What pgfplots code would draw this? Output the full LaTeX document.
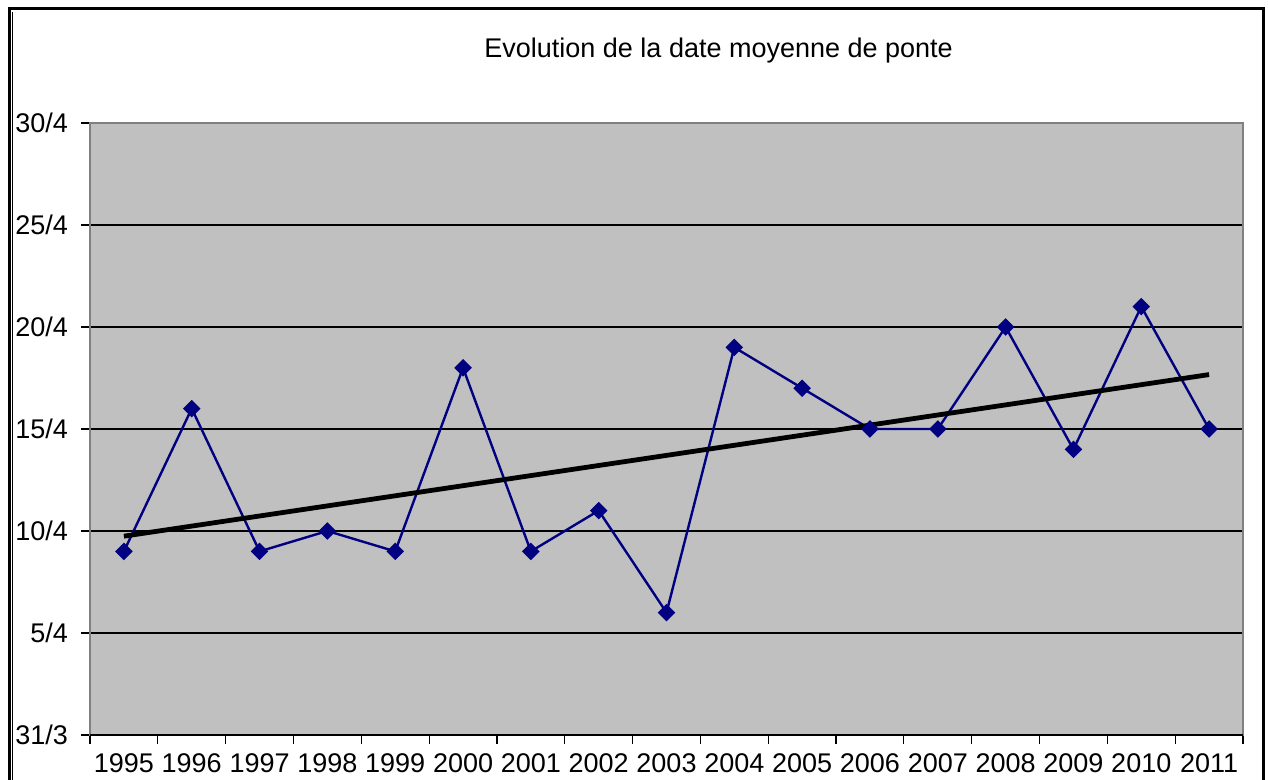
\documentclass[border=0pt]{standalone}
\usepackage{pgfplots}
\pgfplotsset{compat=1.18}
\usepackage{fontspec}
\setmainfont{Liberation Sans}
\definecolor{plotgray}{HTML}{C0C0C0}
\definecolor{bordergray}{HTML}{808080}
\definecolor{navyline}{HTML}{000080}
\begin{document}
\begin{tikzpicture}
\useasboundingbox (0,0) rectangle (634pt,390pt);
\fill[white] (0,0) rectangle (634pt,390pt);
% outer chart frame (bottom edge cropped away)
\draw[black,line width=1.4pt] (4.8pt,-2pt) -- (4.8pt,385.6pt) -- (631.6pt,385.6pt) -- (631.6pt,-2pt);
\draw[black,line width=0.5pt] (6.3pt,-2pt) -- (6.3pt,384.1pt);
\node[anchor=base,font=\fontsize{13.5}{15}\selectfont] at (359.3pt,361pt) {Evolution de la date moyenne de ponte};
\begin{axis}[
  at={(45pt,22.5pt)}, anchor=south west,
  scale only axis, width=576.5pt, height=306pt,
  xmin=-0.5, xmax=16.5, ymin=0, ymax=30,
  axis background/.style={fill=plotgray},
  axis line style={bordergray,line width=1pt},
  xtick={0,...,16},
  xticklabels={1995,1996,1997,1998,1999,2000,2001,2002,2003,2004,2005,2006,2007,2008,2009,2010,2011},
  minor xtick={-0.5,0.5,...,16.5},
  major x tick style={draw=none},
  minor x tick style={black,line width=0.6pt},
  ytick={0,5,10,15,20,25,30},
  yticklabels={31/3,5/4,10/4,15/4,20/4,25/4,30/4},
  y tick style={black,line width=0.6pt},
  tick align=outside,
  major tick length=4.5pt,
  minor tick length=4.5pt,
  xtick pos=bottom, ytick pos=left,
  ymajorgrids,
  grid style={black,line width=0.6pt},
  ticklabel style={font=\fontsize{13.5}{15}\selectfont},
  yticklabel style={xshift=-3pt},
  xticklabel style={yshift=-1.5pt},
  clip=false,
]
\addplot[navyline,line width=1.2pt,mark=square*,mark size=2.8pt,mark options={rotate=45,fill=navyline,draw=navyline,line width=0.6pt}] coordinates {
(0,9) (1,16) (2,9) (3,10) (4,9) (5,18) (6,9) (7,11) (8,6) (9,19) (10,17) (11,15) (12,15) (13,20) (14,14) (15,21) (16,15)
};
\addplot[black,line width=2.4pt,no marks] coordinates {(0,9.745) (16,17.667)};
\draw[black,line width=0.8pt] (rel axis cs:0,0) -- (rel axis cs:1,0);
\end{axis}
\end{tikzpicture}
\end{document}
